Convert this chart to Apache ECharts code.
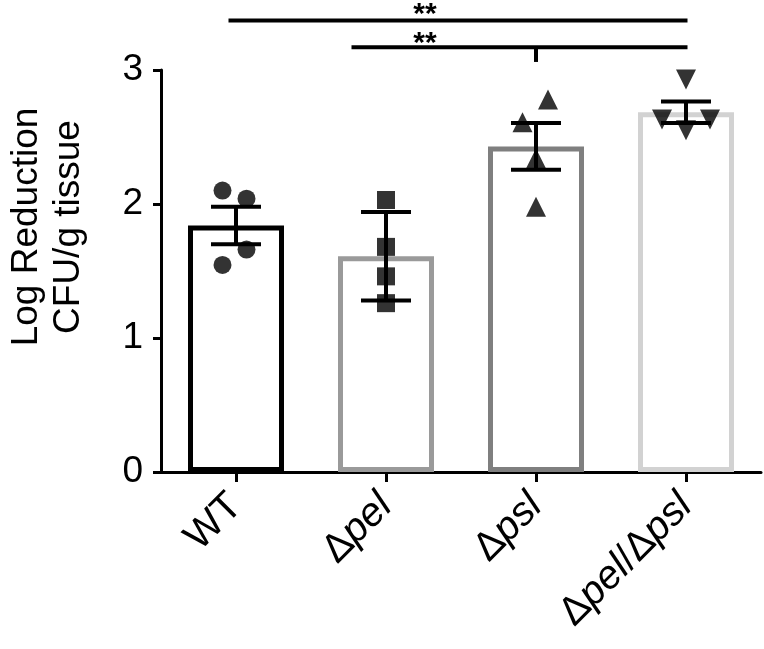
<!DOCTYPE html>
<html>
<head>
<meta charset="utf-8">
<script src="https://cdn.jsdelivr.net/npm/echarts@6/dist/echarts.min.js"></script>
<style>
html,body{margin:0;padding:0;background:#fff;}
#chart{width:764px;height:649px;}
</style>
</head>
<body>
<div id="chart"></div>
<script>
// ---- data ----
var categories = ['WT', 'Δpel', 'Δpsl', 'Δpel/Δpsl'];
var categoryLabels = ['WT', '{n|Δ}{i|pel}', '{n|Δ}{i|psl}', '{n|Δ}{i|pel}{n|/Δ}{i|psl}'];
var barMeans = [1.84, 1.61, 2.43, 2.685];
var errHalf = [0.14, 0.33, 0.175, 0.08];
// individual points: [x position (category index + jitter), value]
var pointsWT = [[-0.09, 2.10], [0.07, 2.04], [0.07, 1.66], [-0.09, 1.545]];
var pointsPel = [[1, 2.03], [1, 1.68], [1, 1.46], [1, 1.26]];
var pointsPsl = [[2.08, 2.78], [1.91, 2.61], [2.0, 2.34], [2.0, 1.98]];
var pointsPelPsl = [[3.0, 2.93], [2.84, 2.63], [3.16, 2.63], [3.0, 2.55]];
var yTicks = [0, 1, 2, 3];
// significance brackets: [from, to, y, starX, starY, tickX, tickBottom]
var sigBrackets = [
  [-0.05, 3.01, 3.37, 1.26, 3.41, null, null],
  [0.77, 3.01, 3.17, 1.26, 3.195, 2, 3.06]
];
var sigLabels = ['**', '**'];
var yTitleLines = ['Log Reduction', 'CFU/g tissue'];

// ---- styles ----
var barBorderColors = ['#000000', '#9a9a9a', '#7f7f7f', '#d2d2d2'];
var FONT = '"Liberation Sans", Arial, sans-serif';
var FS = 37;
var XFS = 40;

var chart = echarts.init(document.getElementById('chart'));

var barData = barMeans.map(function (v, i) {
  return { value: v, itemStyle: { color: '#ffffff', borderColor: barBorderColors[i], borderWidth: 5 } };
});

var errData = barMeans.map(function (v, i) {
  return [i, v - errHalf[i], v + errHalf[i]];
});

var option = {
  animation: false,
  backgroundColor: '#ffffff',
  grid: { left: 161, right: 3, top: 70, bottom: 177, containLabel: false, outerBoundsMode: 'none' },
  graphic: [
    {
      type: 'text',
      x: 48,
      y: 227,
      rotation: Math.PI / 2,
      style: {
        text: yTitleLines.join('\n'),
        font: FS + 'px ' + FONT,
        fill: '#000',
        align: 'center',
        verticalAlign: 'middle',
        lineHeight: 42
      }
    }
  ],
  xAxis: [
    {
      type: 'category',
      data: categories,
      boundaryGap: true,
      axisLine: { show: true, onZero: false, lineStyle: { color: '#000', width: 3 } },
      axisTick: { show: true, alignWithLabel: true, length: 10, lineStyle: { color: '#000', width: 3 } },
      axisLabel: {
        rotate: 45,
        margin: 28,
        color: '#000',
        fontFamily: FONT,
        fontSize: XFS,
        formatter: function (val, idx) { return categoryLabels[idx]; },
        rich: {
          n: { fontFamily: FONT, fontSize: XFS, color: '#000' },
          i: { fontFamily: FONT, fontSize: XFS, fontStyle: 'italic', color: '#000' }
        }
      },
      splitLine: { show: false }
    },
    {
      type: 'value',
      min: -0.5,
      max: 3.5,
      show: false
    }
  ],
  yAxis: {
    type: 'value',
    min: 0,
    max: 3,
    interval: 1,
    axisLine: { show: true, onZero: false, lineStyle: { color: '#000', width: 3 } },
    axisTick: { show: true, length: 8, lineStyle: { color: '#000', width: 3 } },
    axisLabel: {
      color: '#000', fontFamily: FONT, fontSize: FS, margin: 18,
      formatter: function (v) { return yTicks.indexOf(v) >= 0 ? String(v) : ''; }
    },
    splitLine: { show: false }
  },
  series: [
    {
      type: 'bar',
      xAxisIndex: 0,
      barWidth: 96,
      data: barData,
      z: 2
    },
    {
      type: 'custom',
      xAxisIndex: 1,
      z: 3,
      data: errData,
      renderItem: function (params, api) {
        var x = api.value(0);
        var lo = api.coord([x, api.value(1)]);
        var hi = api.coord([x, api.value(2)]);
        var hw = 25;
        var st = { stroke: '#000', lineWidth: 4 };
        return {
          type: 'group',
          children: [
            { type: 'line', shape: { x1: lo[0], y1: lo[1], x2: hi[0], y2: hi[1] }, style: st },
            { type: 'line', shape: { x1: hi[0] - hw, y1: hi[1], x2: hi[0] + hw, y2: hi[1] }, style: st },
            { type: 'line', shape: { x1: lo[0] - hw, y1: lo[1], x2: lo[0] + hw, y2: lo[1] }, style: st }
          ]
        };
      }
    },
    { type: 'scatter', xAxisIndex: 1, symbol: 'circle', symbolSize: 18, itemStyle: { color: '#000' }, data: pointsWT, z: 4 },
    { type: 'scatter', xAxisIndex: 1, symbol: 'rect', symbolSize: 18, itemStyle: { color: '#000' }, data: pointsPel, z: 4 },
    { type: 'scatter', xAxisIndex: 1, symbol: 'triangle', symbolSize: 20, itemStyle: { color: '#000' }, data: pointsPsl, z: 4 },
    { type: 'scatter', xAxisIndex: 1, symbol: 'triangle', symbolRotate: 180, symbolSize: 20, itemStyle: { color: '#000' }, data: pointsPelPsl, z: 4 },
    {
      type: 'custom',
      xAxisIndex: 1,
      z: 5,
      clip: false,
      data: sigBrackets,
      renderItem: function (params, api) {
        var d = sigBrackets[params.dataIndex];
        var a = api.coord([d[0], d[2]]);
        var b = api.coord([d[1], d[2]]);
        var s = api.coord([d[3], d[4]]);
        var st = { stroke: '#000', lineWidth: 4 };
        var children = [
          { type: 'line', shape: { x1: a[0], y1: a[1], x2: b[0], y2: b[1] }, style: st },
          { type: 'text', x: s[0], y: s[1], style: { text: sigLabels[params.dataIndex], fill: '#000', font: 'bold 30px ' + FONT, align: 'center', verticalAlign: 'middle' } }
        ];
        if (d[5] !== null) {
          var t1 = api.coord([d[5], d[2]]);
          var t2 = api.coord([d[5], d[6]]);
          children.push({ type: 'line', shape: { x1: t1[0], y1: t1[1], x2: t2[0], y2: t2[1] }, style: st });
        }
        return { type: 'group', children: children };
      }
    }
  ]
};
chart.setOption(option);
</script>
</body>
</html>
